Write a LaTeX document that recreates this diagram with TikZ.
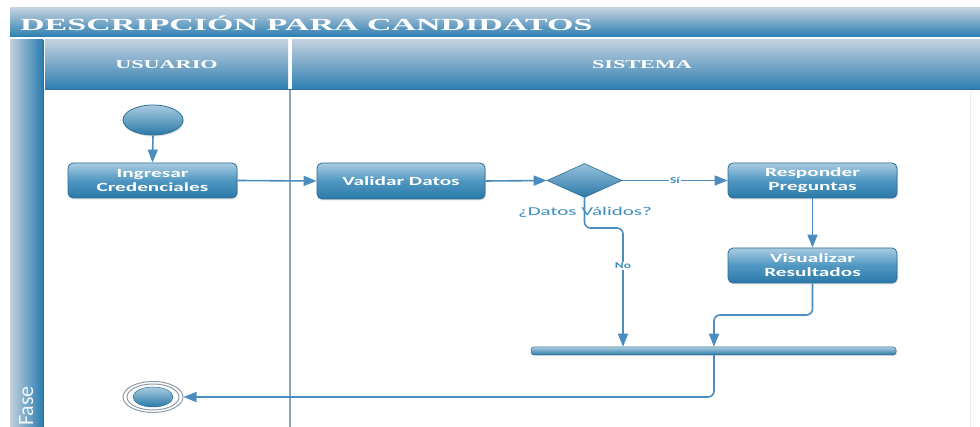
\documentclass[tikz,border=0pt]{standalone}
\usepackage{fontspec}
\setmainfont{Carlito}
\newfontfamily\boxfont[FakeStretch=1.7]{Carlito}
\newfontfamily\labfont[FakeStretch=1.5]{Carlito}
\newfontfamily\declabfont[FakeStretch=1.75]{Carlito}
\newfontfamily\titlefont[FakeStretch=2.0]{Liberation Serif Bold}
\newfontfamily\headfont[FakeStretch=1.85]{Liberation Serif Bold}
\usetikzlibrary{arrows.meta,shapes.geometric,shadows}
\definecolor{lineblue}{HTML}{4A8DBE}
\definecolor{boxtop}{HTML}{A9CCE0}
\definecolor{boxmid}{HTML}{4F97C2}
\definecolor{boxbot}{HTML}{2A79A8}
\definecolor{boxedge}{HTML}{2D6E96}
\definecolor{bartop}{HTML}{C3D1DE}
\definecolor{barbot}{HTML}{2A7DB0}
\definecolor{sepgray}{HTML}{8AA4B8}
\definecolor{labblue}{HTML}{3C8DC0}
\definecolor{ringgray}{HTML}{8E9CAA}
\begin{document}
\begin{tikzpicture}[x=1pt,y=-1pt,
  headbar/.style={rectangle, inner sep=0pt, top color=bartop, bottom color=barbot, draw=none},
  headtext/.style={text=white, font=\headfont\fontsize{12}{12}\selectfont},
  actbox/.style={rectangle, rounded corners=5pt, draw=boxedge, line width=0.8pt,
    top color=boxtop, bottom color=boxbot, middle color=boxmid,
    minimum width=169pt, minimum height=35pt, inner sep=0pt, align=center,
    text=white, font=\boxfont\bfseries\fontsize{12.5}{14}\selectfont,
    drop shadow={opacity=0.25, shadow xshift=1pt, shadow yshift=-1.5pt}},
  decbox/.style={diamond, aspect=2.2, draw=boxedge, line width=0.6pt,
    top color=boxtop!80!boxmid, bottom color=boxbot, minimum width=75pt, minimum height=34pt, inner sep=0pt},
  startnode/.style={ellipse, draw=boxedge, line width=0.8pt, top color=boxtop, bottom color=boxbot,
    minimum width=60pt, minimum height=30pt, inner sep=0pt},
  joinbar/.style={rectangle, rounded corners=3pt, draw=boxedge, line width=0.5pt,
    top color=boxtop, bottom color=boxbot, minimum width=365pt, minimum height=8pt, inner sep=0pt,
    drop shadow={opacity=0.25, shadow xshift=1pt, shadow yshift=-1pt}},
  flow/.style={draw=lineblue, line width=1.6pt, -{Triangle[length=13pt,width=10pt]}},
  lab/.style={fill=white, inner sep=1pt, text=labblue, font=\labfont\bfseries\fontsize{9}{9}\selectfont}
]
\useasboundingbox (0,0) rectangle (980,427);
\clip (0,0) rectangle (980,427);
\fill[white] (0,0) rectangle (980,427);

% title bar
\node[headbar, minimum width=970pt, minimum height=29pt] (titlebar) at (495,22.5) {};
\node[anchor=west, inner sep=0pt, text=white, font=\titlefont\fontsize{17}{17}\selectfont] (titletext) at (20,23) {DESCRIPCIÓN PARA CANDIDATOS};

% left phase bar
\node[rectangle, inner sep=0pt, left color=bartop, right color=barbot, minimum width=33pt, minimum height=387pt] (phasebar) at (26.5,233.5) {};
\draw[boxedge, line width=1pt] (43,40) -- (43,427);
\node[rotate=90, anchor=base west, inner sep=0pt, text=white!85!boxtop, font=\fontsize{22}{22}\selectfont] (fase) at (33,426) {Fase};

% lane headers
\node[headbar, minimum width=243pt, minimum height=50pt] (husr) at (166.5,65) {};
\node[headtext] (husrt) at (husr.center) {USUARIO};
\node[headbar, minimum width=688pt, minimum height=50pt] (hsys) at (636,65) {};
\node[headtext] (hsyst) at (642,65) {SISTEMA};
\draw[boxedge, line width=1pt] (45,90) -- (980,90);

% lane separators
\draw[sepgray, line width=1.5pt] (290,90) -- (290,427);
\draw[gray!15, line width=0.8pt] (970,92) -- (970,427);

% nodes
\node[startnode, drop shadow={opacity=0.25, shadow xshift=1pt, shadow yshift=-1.5pt}] (init) at (153,120) {};
\node[actbox] (ing) at (152.5,180.5) {Ingresar\\Credenciales};
\node[actbox, minimum width=168pt, minimum height=36pt] (val) at (401,181) {Validar Datos};
\node[decbox] (dec) at (584.5,180.5) {};
\node[inner sep=0pt, text=labblue, font=\declabfont\fontsize{12}{12}\selectfont] (declab) at (585,212) {¿Datos Válidos?};
\node[actbox] (resp) at (812.5,180.5) {Responder\\Preguntas};
\node[actbox] (vis) at (812.5,265.5) {Visualizar\\Resultados};
\node[joinbar] (bar) at (713.5,351) {};

% final node
\node[ellipse, draw=ringgray, line width=1pt, fill=white, minimum width=60pt, minimum height=31pt, inner sep=0pt] (fin) at (153,397) {};
\node[ellipse, draw=ringgray, line width=1pt, minimum width=52pt, minimum height=26pt, inner sep=0pt] (finring) at (153,397) {};
\node[ellipse, draw=boxedge, line width=0.5pt, top color=boxtop, bottom color=boxbot, minimum width=40pt, minimum height=20pt, inner sep=0pt] (fincore) at (153,397) {};

% helper coordinates
\coordinate (nojog) at (623,228);
\coordinate (visjog) at (714,315);
\coordinate (endjog) at (714,398);

% connectors
\draw[flow] (init.south) -- (ing.north);
\draw[flow] (ing.east) -- (val.west);
\draw[flow] (val.east) -- (dec.west);
\draw[flow] (dec.east) -- node[lab, pos=0.5] {Sí} (resp.west);
\draw[flow] (resp.south) -- (vis.north);
\draw[flow, rounded corners=6pt] (dec.south) |- (nojog) -- node[lab, pos=0.32] {No} (nojog |- bar.north);
\draw[flow, rounded corners=6pt] (vis.south) |- (visjog) -- (visjog |- bar.north);
\draw[flow, rounded corners=6pt] (endjog |- bar.south) |- (fin.east);
\end{tikzpicture}
\end{document}
